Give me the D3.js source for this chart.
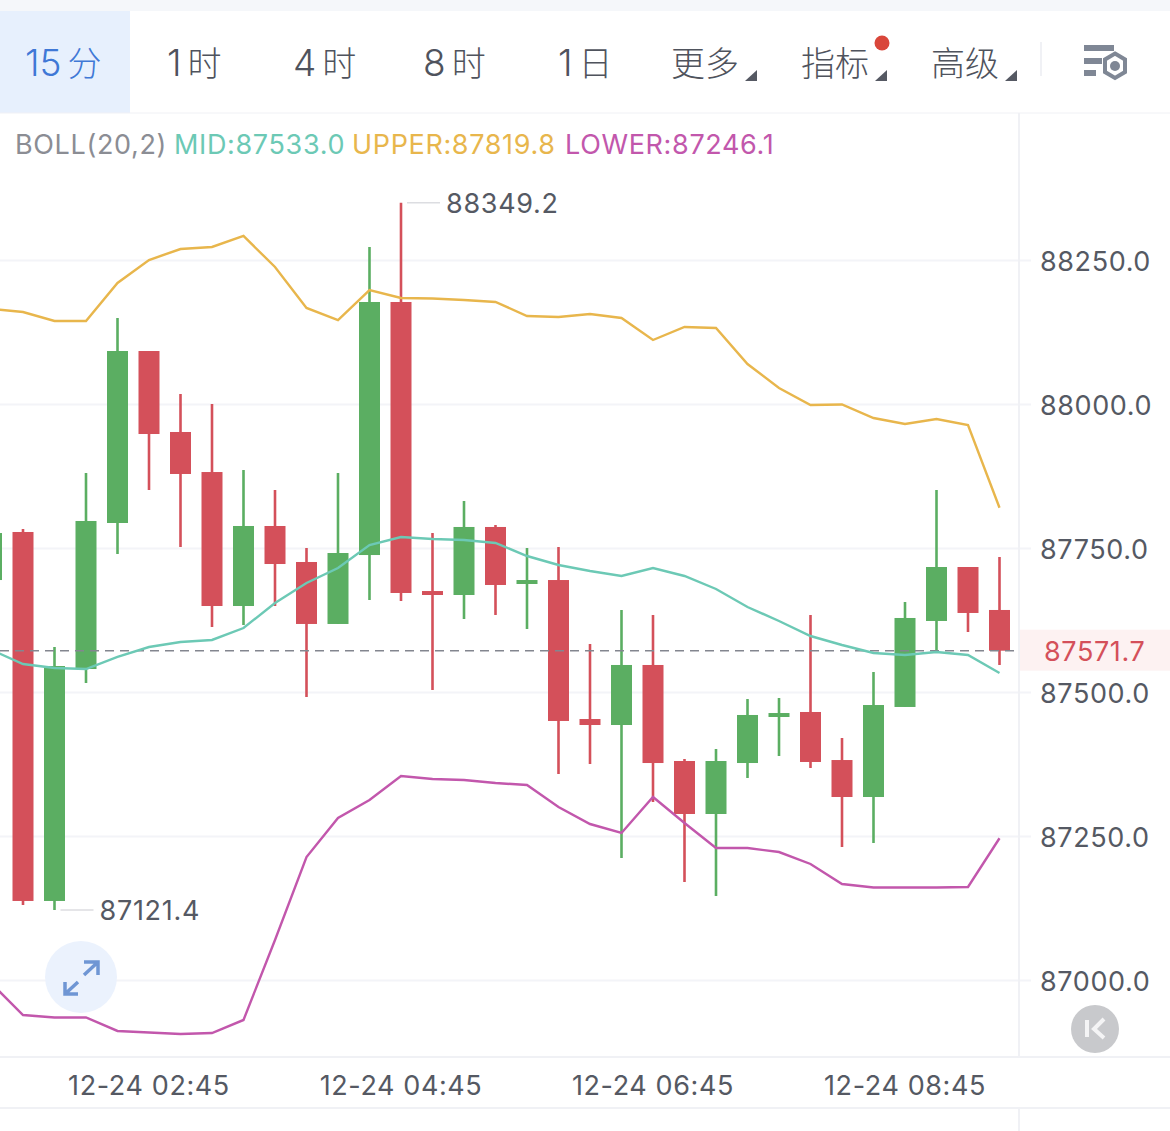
<!DOCTYPE html>
<html>
<head>
<meta charset="utf-8">
<script src="https://cdn.jsdelivr.net/npm/d3@7"></script>
<style>
  html, body { margin: 0; padding: 0; background: #fff; overflow: hidden; }
  svg { display: block; }
  text { font-family: Inter, Roboto, "Noto Sans CJK SC", sans-serif; }
  .axis .domain { display: none; }
  .y.axis line { stroke: #f3f4f8; stroke-width: 2; }
  .x.axis line { display: none; }
  .axis text { fill: #555963; font-size: 27px; font-family: Inter, sans-serif; letter-spacing: .6px; }
</style>
</head>
<body>
<svg id="chart"></svg>
<script>
const times = ["12-24 01:30", "12-24 01:45", "12-24 02:00", "12-24 02:15", "12-24 02:30", "12-24 02:45", "12-24 03:00",
  "12-24 03:15", "12-24 03:30", "12-24 03:45", "12-24 04:00", "12-24 04:15", "12-24 04:30", "12-24 04:45",
  "12-24 05:00", "12-24 05:15", "12-24 05:30", "12-24 05:45", "12-24 06:00", "12-24 06:15", "12-24 06:30", "12-24 06:45",
  "12-24 07:00", "12-24 07:15", "12-24 07:30", "12-24 07:45", "12-24 08:00", "12-24 08:15", "12-24 08:30", "12-24 08:45",
  "12-24 09:00", "12-24 09:15", "12-24 09:30"];
const opens = [87694.4, 87777.8, 87137.2, 87539.9, 87793.4, 88092.0, 87951.4, 87881.9, 87649.3, 87788.2, 87725.7, 87618.1,
  87737.8, 88177.1, 87675.3, 87668.4, 87786.5, 87687.5, 87694.4, 87453.1, 87442.7, 87546.9,
  87380.2, 87288.2, 87376.7, 87456.6, 87465.3, 87381.9, 87317.7, 87474.0, 87623.3, 87717.0, 87642.4];
const closes = [87776.0, 87137.2, 87545.1, 87796.9, 88092.0, 87947.9, 87878.5, 87649.3, 87788.2, 87722.2, 87618.1, 87741.3,
  88177.1, 87671.9, 87668.4, 87786.5, 87685.8, 87694.4, 87449.7, 87442.7, 87546.9, 87376.7,
  87288.2, 87380.2, 87460.1, 87463.5, 87378.5, 87317.7, 87477.4, 87628.5, 87717.0, 87637.2, 87571.7];
const highs = [87776.0, 87783.0, 87578.1, 87880.2, 88149.3, 88092.0, 88017.4, 88000.0, 87885.4, 87850.7, 87750.0, 87880.2,
  88272.6, 88349.2, 87776.0, 87831.6, 87789.9, 87750.0, 87751.7, 87583.3, 87642.4, 87633.7,
  87383.7, 87401.0, 87487.8, 87489.6, 87633.7, 87420.1, 87534.7, 87656.3, 87850.7, 87717.0, 87734.4];
const lows = [87694.4, 87130.2, 87121.4, 87515.6, 87739.6, 87850.7, 87751.7, 87612.8, 87616.3, 87649.3, 87491.3, 87618.1,
  87659.7, 87658.0, 87503.5, 87626.7, 87633.7, 87609.4, 87357.6, 87375.0, 87211.8, 87309.0,
  87170.1, 87145.8, 87350.7, 87388.9, 87368.1, 87230.9, 87237.8, 87474.0, 87569.4, 87604.2, 87546.9];
const upper = [88164.9, 88159.7, 88144.1, 88144.1, 88210.1, 88250.0, 88269.1, 88272.6, 88291.7, 88237.9, 88166.7, 88145.8,
  88197.9, 88184.0, 88183.2, 88180.6, 88177.1, 88152.8, 88151.0, 88156.3, 88149.3, 88111.1,
  88133.7, 88131.9, 88069.4, 88027.8, 87998.3, 87999.1, 87975.7, 87965.3, 87974.0, 87963.5, 87819.8];
const mid = [87572.9, 87548.6, 87541.7, 87539.9, 87560.8, 87578.1, 87586.8, 87590.3, 87611.1, 87654.5, 87689.2, 87715.3,
  87755.2, 87769.1, 87765.6, 87763.9, 87758.7, 87736.1, 87720.5, 87710.1, 87701.4, 87715.3,
  87701.4, 87678.8, 87647.6, 87623.3, 87597.2, 87581.6, 87567.7, 87564.2, 87569.4, 87564.2, 87533.0];
const lower = [86993.9, 86939.2, 86934.9, 86934.9, 86911.5, 86908.9, 86906.2, 86908.0, 86930.6, 87069.4, 87213.5, 87281.3,
  87312.5, 87354.2, 87349.0, 87347.2, 87342.0, 87338.5, 87300.3, 87270.8, 87255.2, 87317.7,
  87272.6, 87229.2, 87229.2, 87222.2, 87201.4, 87166.7, 87160.6, 87160.6, 87160.6, 87161.5, 87246.1];
const yTicks = [87000, 87250, 87500, 87750, 88000, 88250];
const xTicks = ["12-24 02:45", "12-24 04:45", "12-24 06:45", "12-24 08:45"];
const tabs = ["15分", "1时", "4时", "8时", "1日", "更多", "指标", "高级"];
const tabLeft = [25, 167, 293, 423, 558, 671, 801, 931];
const lastPrice = 87571.7;

const width = 1170, height = 1131;
const plotRight = 1019, plotTop = 113, plotBottom = 1057;
const red = "#d4505a", green = "#5bae62", textColor = "#555963";

const svg = d3.select("#chart").attr("width", width).attr("height", height);

// page frame
svg.append("rect").attr("width", width).attr("height", 11).attr("fill", "#f5f7fa");
svg.append("rect").attr("y", 11).attr("width", 130).attr("height", 102).attr("fill", "#e7f0fd");

const hLines = [[113, 1], [1057, 2], [1108, 2]];
hLines.forEach(d => {
  svg.append("line").attr("x1", 0).attr("x2", width).attr("y1", d[0]).attr("y2", d[0])
    .attr("stroke", "#f0f1f5").attr("stroke-width", d[1]);
});

const xScale = d3.scaleBand()
  .domain(times)
  .range([-24.25, -24.25 + 31.5 * times.length]);

const yScale = d3.scaleLinear()
  .domain([87000, 88250])
  .range([980, 260]);

const cx = t => xScale(t) + xScale.bandwidth() / 2;

// grid + price axis
svg.append("g")
  .attr("class", "y axis")
  .attr("transform", "translate(1031,0)")
  .call(d3.axisRight(yScale).tickValues(yTicks).tickSize(-1031).tickPadding(9).tickFormat(d3.format(".1f")));
svg.select(".y.axis").selectAll("text").attr("x", 9).attr("dy", "0.36em").attr("y", .4);

svg.append("g")
  .attr("class", "x axis")
  .attr("transform", "translate(0,1057)")
  .call(d3.axisBottom(xScale).tickValues(xTicks).tickSize(0).tickPadding(19));

svg.append("line").attr("x1", plotRight).attr("x2", plotRight).attr("y1", plotTop).attr("y2", plotBottom)
  .attr("stroke", "#f0f1f5").attr("stroke-width", 2);
svg.append("line").attr("x1", plotRight).attr("x2", plotRight).attr("y1", 1108).attr("y2", height)
  .attr("stroke", "#f0f1f5").attr("stroke-width", 2);

svg.append("clipPath").attr("id", "plot").append("rect")
  .attr("x", 0).attr("y", plotTop).attr("width", plotRight).attr("height", plotBottom - plotTop);

const plot = svg.append("g").attr("clip-path", "url(#plot)");
const candles = times.map((t, i) => ({t, open: opens[i], close: closes[i], high: highs[i], low: lows[i]}));
const candleColor = d => d.close >= d.open ? green : red;

plot.selectAll(".wick")
  .data(candles)
  .enter().append("line")
  .attr("class", "wick")
  .attr("x1", d => cx(d.t)).attr("x2", d => cx(d.t))
  .attr("y1", d => yScale(d.high)).attr("y2", d => yScale(d.low))
  .attr("stroke", candleColor)
  .attr("stroke-width", 2.6);

plot.selectAll(".body")
  .data(candles)
  .enter().append("rect")
  .attr("class", "body")
  .attr("x", d => cx(d.t) - 10.5)
  .attr("width", 21)
  .attr("y", d => yScale(Math.max(d.open, d.close)))
  .attr("height", d => Math.abs(yScale(d.open) - yScale(d.close)))
  .attr("fill", candleColor);

// last price
plot.append("line")
  .attr("x1", 0).attr("x2", plotRight - 4)
  .attr("y1", yScale(lastPrice)).attr("y2", yScale(lastPrice))
  .attr("stroke", "#83868f").attr("stroke-width", 1.5).attr("stroke-dasharray", "9 6");

const line = d3.line()
  .x((d, i) => cx(times[i]))
  .y(d => yScale(d));

[[upper, "#e8b64c"], [mid, "#6cc9b5"], [lower, "#c257ac"]].forEach(d => {
  plot.append("path")
    .datum(d[0])
    .attr("d", line)
    .attr("fill", "none")
    .attr("stroke", d[1])
    .attr("stroke-width", 2.4);
});

svg.append("rect").attr("x", plotRight + 1).attr("y", yScale(lastPrice) - 21).attr("width", width - plotRight).attr("height", 41)
  .attr("fill", "#fdf2f2");
svg.append("text").attr("x", 1044).attr("y", yScale(lastPrice) + 10)
  .attr("fill", red).attr("font-size", 27).style("letter-spacing", ".6px").text(d3.format(".1f")(lastPrice));

// high / low notes
const maxIdx = d3.maxIndex(highs), minIdx = d3.minIndex(lows);
[[maxIdx, highs[maxIdx]], [minIdx, lows[minIdx]]].forEach(d => {
  const x = cx(times[d[0]]), y = yScale(d[1]);
  svg.append("line").attr("x1", x + 6).attr("x2", x + 39).attr("y1", y).attr("y2", y)
    .attr("stroke", "#dcdde1").attr("stroke-width", 1.5);
  svg.append("text").attr("x", x + 45).attr("y", y + 10)
    .attr("fill", textColor).attr("font-size", 27).style("letter-spacing", ".7px").text(d3.format(".1f")(d[1]));
});

// legend
const legend = [["BOLL(20,2)", 15, "#8b8d94"], ["MID:87533.0", 174, "#6cc9b5"], ["UPPER:87819.8", 352, "#e8b64c"], ["LOWER:87246.1", 565, "#c257ac"]];
legend.forEach(d => {
  svg.append("text").attr("x", d[1]).attr("y", 154).attr("fill", d[2])
    .attr("font-size", 27).style("letter-spacing", ".65px").text(d[0]);
});

// tabs: the digit part is a bit larger and sits apart from the last CJK glyph
tabs.forEach((d, i) => {
  const isNum = /\d/.test(d);
  const tab = svg.append("text").attr("x", tabLeft[i]).attr("y", 76)
    .attr("fill", i === 0 ? "#3f78d6" : "#4f535d")
    .attr("font-size", 34)
    .style("font-family", "Inter, 'Noto Sans CJK SC'")
    .style("font-weight", 300);
  if (isNum) {
    tab.append("tspan").attr("font-size", 37).text(d.slice(0, -1));
    tab.append("tspan").attr("dx", 6).text(d.slice(-1));
  } else {
    tab.text(d);
  }
});
[757, 887, 1017].forEach(x => {
  svg.append("path").attr("d", `M${x} 70V81H${x - 12}Z`).attr("fill", textColor);
});
svg.append("circle").attr("cx", 882).attr("cy", 43).attr("r", 7.5).attr("fill", "#d9463a");
svg.append("line").attr("x1", 1041).attr("x2", 1041).attr("y1", 42).attr("y2", 76).attr("stroke", "#f0f1f5").attr("stroke-width", 2);

// settings icon
const gear = svg.append("g").attr("fill", "#7f8795");
gear.append("rect").attr("x", 1084).attr("y", 45).attr("width", 30).attr("height", 6);
gear.append("rect").attr("x", 1084).attr("y", 58).attr("width", 18).attr("height", 6);
gear.append("rect").attr("x", 1084).attr("y", 70).attr("width", 12).attr("height", 6);
svg.append("path").attr("d", "M1115 53.5L1125 59.5V72L1115 78L1105 72V59.5Z")
  .attr("fill", "none").attr("stroke", "#7f8795").attr("stroke-width", 4);
svg.append("circle").attr("cx", 1115).attr("cy", 66).attr("r", 5).attr("fill", "#7f8795");

// expand button
svg.append("circle").attr("cx", 81).attr("cy", 977).attr("r", 36).attr("fill", "#ebf2fd");
svg.append("path").attr("d", "M84 975L98 962M84 962H98V975M65 994L78 982M65 982V994H78")
  .attr("fill", "none").attr("stroke", "#6f96d4").attr("stroke-width", 3.5);

// back button
svg.append("circle").attr("cx", 1095).attr("cy", 1029).attr("r", 24).attr("fill", "#c8c9cc");
svg.append("path").attr("d", "M1087 1020V1037M1104 1019L1094 1029L1104 1038")
  .attr("fill", "none").attr("stroke", "#f4f4f5").attr("stroke-width", 4);
</script>
</body>
</html>
